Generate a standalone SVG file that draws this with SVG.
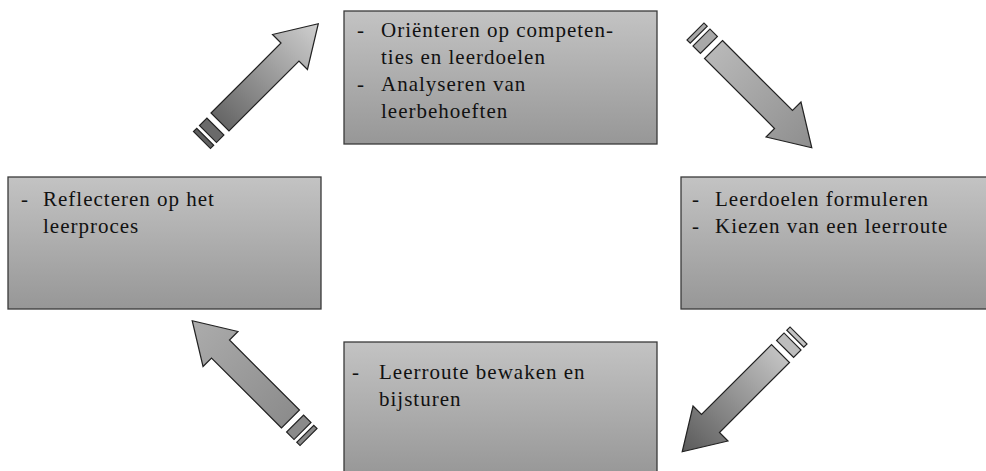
<svg xmlns="http://www.w3.org/2000/svg" width="986" height="471" viewBox="0 0 986 471">
<defs>
<linearGradient id="boxg" x1="0" y1="0" x2="0" y2="1">
<stop offset="0" stop-color="#c3c3c3"/>
<stop offset="1" stop-color="#979797"/>
</linearGradient>
<linearGradient id="a1" x1="0" y1="0" x2="1" y2="0">
<stop offset="0" stop-color="#666"/>
<stop offset="1" stop-color="#cfcfcf"/>
</linearGradient>
<linearGradient id="a2" x1="0" y1="0" x2="1" y2="0">
<stop offset="0" stop-color="#b8b8b8"/>
<stop offset="1" stop-color="#8e8e8e"/>
</linearGradient>
<linearGradient id="a3" x1="0" y1="0" x2="1" y2="0">
<stop offset="0" stop-color="#c2c2c2"/>
<stop offset="1" stop-color="#5a5a5a"/>
</linearGradient>
<linearGradient id="a4" x1="0" y1="0" x2="1" y2="0">
<stop offset="0" stop-color="#8c8c8c"/>
<stop offset="1" stop-color="#acacac"/>
</linearGradient>
<polygon id="arrow" points="0,-12.7 99,-12.7 99,-24.7 139,0 99,24.7 99,12.7 0,12.7"/>
</defs>
<style>
.box{fill:url(#boxg);stroke:#3a3a3a;stroke-width:1.3}
.t{font-family:'Liberation Serif','DejaVu Serif',serif;font-size:21px;letter-spacing:1px;fill:#111}
.ar{stroke:#222;stroke-width:1.2;stroke-linejoin:miter}
.st{stroke:#222;stroke-width:1.2}
</style>
<rect width="986" height="471" fill="#fff"/>
<g id="connectors">
<g id="arrow-1" transform="translate(220,122) rotate(-45)">
<use href="#arrow" class="ar" fill="url(#a1)"/>
<rect class="st" x="-17" y="-12" width="10.5" height="24" fill="#6a6a6a"/>
<rect class="st" x="-25.5" y="-12" width="4.6" height="24" fill="#606060"/>
</g>
<g id="arrow-2" transform="translate(713.5,49.5) rotate(45)">
<use href="#arrow" class="ar" fill="url(#a2)"/>
<rect class="st" x="-17" y="-12" width="10.5" height="24" fill="#a8a8a8"/>
<rect class="st" x="-25.5" y="-12" width="4.6" height="24" fill="#a8a8a8"/>
</g>
<g id="arrow-3" transform="translate(780.5,353.5) rotate(135)">
<use href="#arrow" class="ar" fill="url(#a3)"/>
<rect class="st" x="-17" y="-12" width="10.5" height="24" fill="#bdbdbd"/>
<rect class="st" x="-25.5" y="-12" width="4.6" height="24" fill="#c2c2c2"/>
</g>
<g id="arrow-4" transform="translate(290.5,419) rotate(-135)">
<use href="#arrow" class="ar" fill="url(#a4)"/>
<rect class="st" x="-17" y="-12" width="10.5" height="24" fill="#8a8a8a"/>
<rect class="st" x="-25.5" y="-12" width="4.6" height="24" fill="#888"/>
</g>
</g>
<g id="node-top">
<rect class="box" x="344" y="11" width="313" height="133"/>
<text class="t"><tspan x="357" y="37">-</tspan><tspan x="381" y="37">Oriënteren op competen-</tspan></text>
<text class="t" x="381" y="64">ties en leerdoelen</text>
<text class="t"><tspan x="357" y="91">-</tspan><tspan x="381" y="91">Analyseren van</tspan></text>
<text class="t" x="381" y="118">leerbehoeften</text>
</g>
<g id="node-right">
<rect class="box" x="681" y="177" width="320" height="132"/>
<text class="t"><tspan x="692" y="206">-</tspan><tspan x="715" y="206">Leerdoelen formuleren</tspan></text>
<text class="t"><tspan x="692" y="233">-</tspan><tspan x="715" y="233">Kiezen van een leerroute</tspan></text>
</g>
<g id="node-bottom">
<rect class="box" x="344" y="342" width="313" height="134"/>
<text class="t"><tspan x="352" y="379">-</tspan><tspan x="379" y="379">Leerroute bewaken en</tspan></text>
<text class="t" x="379" y="406">bijsturen</text>
</g>
<g id="node-left">
<rect class="box" x="8" y="177" width="313" height="132"/>
<text class="t"><tspan x="21" y="206">-</tspan><tspan x="43" y="206">Reflecteren op het</tspan></text>
<text class="t" x="43" y="233">leerproces</text>
</g>
</svg>
